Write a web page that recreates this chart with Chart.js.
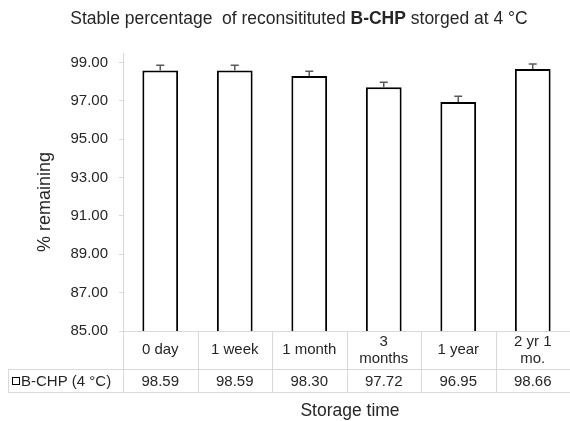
<!DOCTYPE html>
<html>
<head>
    <title>B-CHP stability</title>
    <script src="https://cdn.jsdelivr.net/npm/chart.js"></script>
    <style>
        body { margin: 0; background: #fff; }
        #wrap { width: 570px; height: 421px; }
    </style>
</head>
<body>
<div id="wrap"><canvas id="stabChart" width="570" height="421"></canvas></div>
<script>
    // data
    var categories = [['0 day'], ['1 week'], ['1 month'], ['3', 'months'], ['1 year'], ['2 yr 1', 'mo.']];
    var seriesName = 'B-CHP (4 \u00B0C)';
    var values = [98.59, 98.59, 98.30, 97.72, 96.95, 98.66];
    var errors = [0.27, 0.27, 0.25, 0.26, 0.29, 0.27];
    var yTicks = [85, 87, 89, 91, 93, 95, 97, 99];

    var FONT = '"Liberation Sans", Arial, sans-serif';
    var TEXT = '#262626';
    var GRID = '#d9d9d9';

    // error bars, data table, titles
    var extras = {
        id: 'extras',
        afterDatasetsDraw: function (chart) {
            var ctx = chart.ctx;
            var y = chart.scales.y;
            var meta = chart.getDatasetMeta(0);
            ctx.save();
            ctx.strokeStyle = '#595959';
            ctx.lineWidth = 1.5;
            meta.data.forEach(function (bar, i) {
                var top = y.getPixelForValue(values[i] + errors[i]);
                var base = y.getPixelForValue(values[i]);
                ctx.beginPath();
                ctx.moveTo(bar.x, base);
                ctx.lineTo(bar.x, top);
                ctx.moveTo(bar.x - 4, top);
                ctx.lineTo(bar.x + 4, top);
                ctx.stroke();
            });
            ctx.restore();
        },
        afterDraw: function (chart) {
            var ctx = chart.ctx;
            var area = chart.chartArea;
            var x = chart.scales.x;
            var n = categories.length;
            var w = (area.right - area.left) / n;
            var row1 = area.bottom, row2 = 369, row3 = 392;

            ctx.save();
            ctx.strokeStyle = GRID;
            ctx.lineWidth = 1;
            ctx.beginPath();
            ctx.moveTo(8, row2 + 0.5); ctx.lineTo(570, row2 + 0.5);
            ctx.moveTo(8, row3 + 0.5); ctx.lineTo(570, row3 + 0.5);
            ctx.moveTo(8.5, row2); ctx.lineTo(8.5, row3);
            for (var i = 0; i <= n; i++) {
                var lx = Math.round(area.left + i * w) + 0.5;
                ctx.moveTo(lx, row1); ctx.lineTo(lx, row3);
            }
            ctx.stroke();

            ctx.fillStyle = TEXT;
            ctx.font = '15px ' + FONT;
            ctx.textAlign = 'center';
            ctx.textBaseline = 'middle';
            categories.forEach(function (lines, i) {
                var cx = x.getPixelForValue(i);
                var cy = (row1 + row2) / 2;
                var lh = 17;
                lines.forEach(function (t, k) {
                    ctx.fillText(t, cx, cy + (k - (lines.length - 1) / 2) * lh);
                });
                ctx.fillText(values[i].toFixed(2), cx, (row2 + row3) / 2 + 1);
            });

            // legend key in table header cell
            ctx.strokeStyle = '#000';
            ctx.fillStyle = '#fff';
            ctx.lineWidth = 1;
            ctx.fillRect(12.5, 377.5, 7, 7);
            ctx.strokeRect(12.5, 377.5, 7, 7);
            ctx.fillStyle = TEXT;
            ctx.textAlign = 'left';
            ctx.fillText(seriesName, 21, (row2 + row3) / 2 + 1);

            // axis titles
            ctx.font = '17.5px ' + FONT;
            ctx.textAlign = 'center';
            ctx.fillText('Storage time', 350, 411);
            ctx.save();
            ctx.font = '18px ' + FONT;
            ctx.translate(45, 202);
            ctx.rotate(-Math.PI / 2);
            ctx.fillText('% remaining', 0, 0);
            ctx.restore();

            // chart title with bold part
            var parts = [
                { t: 'Stable percentage  of reconsitituted ', b: false },
                { t: 'B-CHP', b: true },
                { t: ' storged at 4 \u00B0C', b: false }
            ];
            var size = '17.5px ';
            var total = 0;
            parts.forEach(function (p) {
                ctx.font = (p.b ? 'bold ' : '') + size + FONT;
                p.w = ctx.measureText(p.t).width;
                total += p.w;
            });
            var tx = 299 - total / 2;
            ctx.textAlign = 'left';
            parts.forEach(function (p) {
                ctx.font = (p.b ? 'bold ' : '') + size + FONT;
                ctx.fillText(p.t, tx, 19);
                tx += p.w;
            });
            ctx.restore();
        }
    };

    var ctx = document.getElementById('stabChart').getContext('2d');
    var chart = new Chart(ctx, {
        type: 'bar',
        data: {
            labels: categories,
            datasets: [{
                label: seriesName,
                data: values,
                backgroundColor: '#ffffff',
                borderColor: '#000000',
                borderWidth: 2,
                barPercentage: 0.48,
                categoryPercentage: 1.0
            }]
        },
        options: {
            responsive: false,
            animation: false,
            layout: { padding: { top: 53, bottom: 90, left: 0, right: -3 } },
            plugins: {
                legend: { display: false },
                tooltip: { enabled: false }
            },
            scales: {
                x: {
                    display: true,
                    grid: { display: false, drawTicks: false },
                    border: { color: GRID, width: 1 },
                    ticks: { display: false }
                },
                y: {
                    min: 85,
                    max: 99.5,
                    afterBuildTicks: function (scale) {
                        scale.ticks = yTicks.map(function (v) { return { value: v }; });
                    },
                    afterFit: function (scale) { scale.width = 123; },
                    grid: { drawOnChartArea: false, tickLength: 4, color: GRID },
                    border: { color: GRID, width: 1 },
                    ticks: {
                        padding: 11,
                        color: TEXT,
                        font: { family: FONT, size: 15 },
                        callback: function (v) { return Number(v).toFixed(2); }
                    }
                }
            }
        },
        plugins: [extras]
    });
</script>
</body>
</html>
